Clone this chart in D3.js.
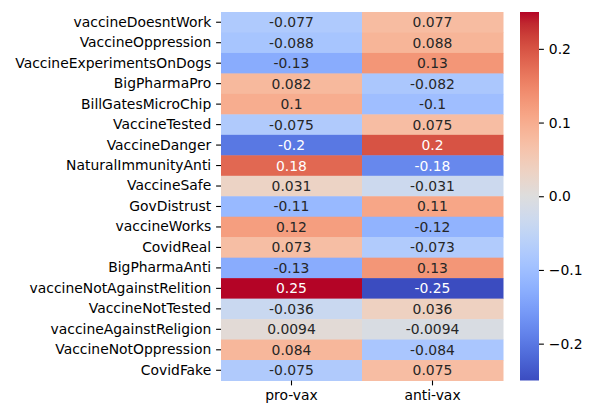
<!DOCTYPE html>
<html>
<head>
<meta charset="utf-8">
<script src="https://cdn.jsdelivr.net/npm/d3@7.9.0/dist/d3.min.js"></script>
<style>
  body { margin: 0; background: #fff; }
  svg { display: block; font-family: "DejaVu Sans", sans-serif; }
</style>
</head>
<body>
<svg id="chart" width="608" height="414"></svg>
<script>
const rows = [
  'vaccineDoesntWork', 'VaccineOppression', 'VaccineExperimentsOnDogs', 'BigPharmaPro',
  'BillGatesMicroChip', 'VaccineTested', 'VaccineDanger', 'NaturalImmunityAnti',
  'VaccineSafe', 'GovDistrust', 'vaccineWorks', 'CovidReal', 'BigPharmaAnti',
  'vaccineNotAgainstRelition', 'VaccineNotTested', 'vaccineAgainstReligion',
  'VaccineNotOppression', 'CovidFake'
];
const cols = ['pro-vax', 'anti-vax'];
const proVax = [-0.077, -0.088, -0.13, 0.082, 0.1, -0.075, -0.2, 0.18, 0.031, -0.11,
  0.12, 0.073, -0.13, 0.25, -0.036, 0.0094, 0.084, -0.075];
const antiVax = [0.077, 0.088, 0.13, -0.082, -0.1, 0.075, 0.2, -0.18, -0.031, 0.11,
  -0.12, -0.073, 0.13, -0.25, 0.036, -0.0094, -0.084, 0.075];
const cbarTicks = [-0.2, -0.1, 0.0, 0.1, 0.2];

// matplotlib coolwarm (Moreland), 33 samples
const coolwarm = [
  [59,76,192],[68,90,204],[77,104,215],[87,117,225],[98,130,234],[108,142,241],
  [119,154,247],[130,165,251],[141,176,254],[152,185,255],[163,194,255],[174,201,253],
  [184,208,249],[194,213,244],[204,217,238],[213,219,230],[221,221,221],[229,216,209],
  [236,211,197],[241,204,185],[245,196,173],[247,187,160],[247,177,148],[247,166,135],
  [244,154,123],[241,141,111],[236,127,99],[229,112,88],[222,96,77],[213,80,66],
  [203,62,56],[192,40,47],[180,4,38]
];

const vmin = -0.25, vmax = 0.25;
const stopT = coolwarm.map((c, i) => i / (coolwarm.length - 1));
const cmap = d3.scaleLinear()
  .domain(stopT)
  .range(coolwarm.map(c => d3.rgb(c[0], c[1], c[2])))
  .interpolate(d3.interpolateRgb)
  .clamp(true);
const norm = d3.scaleLinear().domain([vmin, vmax]).range([0, 1]).clamp(true);
const color = v => cmap(norm(v));

function luminance(c) {
  const rgb = d3.rgb(c);
  const lin = [rgb.r, rgb.g, rgb.b].map(x => {
    x = x / 255;
    return x <= 0.03928 ? x / 12.92 : Math.pow((x + 0.055) / 1.055, 2.4);
  });
  return 0.2126 * lin[0] + 0.7152 * lin[1] + 0.0722 * lin[2];
}

const cells = [];
rows.forEach((r, i) => {
  cells.push({ row: r, col: cols[0], value: proVax[i] });
  cells.push({ row: r, col: cols[1], value: antiVax[i] });
});

const svg = d3.select('#chart');
const x = d3.scaleBand().domain(cols).range([221, 503]);
const y = d3.scaleBand().domain(rows).range([12, 380.5]);

svg.append('g')
  .selectAll('rect')
  .data(cells)
  .join('rect')
  .attr('x', d => x(d.col))
  .attr('y', d => y(d.row))
  .attr('width', x.bandwidth() + 0.5)
  .attr('height', y.bandwidth() + 0.5)
  .attr('fill', d => color(d.value));

svg.append('g')
  .selectAll('text')
  .data(cells)
  .join('text')
  .attr('x', d => x(d.col) + x.bandwidth() / 2)
  .attr('y', d => y(d.row) + y.bandwidth() / 2)
  .attr('text-anchor', 'middle')
  .attr('dominant-baseline', 'central')
  .attr('font-size', 13.9)
  .attr('fill', d => luminance(color(d.value)) > 0.408 ? '#262626' : '#ffffff')
  .text(d => String(d.value));

const yAxis = svg.append('g')
  .attr('transform', 'translate(221,0)')
  .call(d3.axisLeft(y).tickSize(4.9).tickPadding(4.9));
const xAxis = svg.append('g')
  .attr('transform', 'translate(0,380.5)')
  .call(d3.axisBottom(x).tickSize(4.9).tickPadding(4.9));

[yAxis, xAxis].forEach(a => {
  a.select('.domain').remove();
  a.selectAll('.tick line').attr('stroke', '#000').attr('stroke-width', 1.1);
  a.selectAll('.tick text').attr('fill', '#000').attr('font-size', 13.9)
    .attr('font-family', '"DejaVu Sans", sans-serif');
});

// colorbar
const cbX = 520, cbW = 19;
const cbY = d3.scaleLinear().domain([vmin, vmax]).range([380.5, 12]);
const grad = svg.append('defs').append('linearGradient')
  .attr('id', 'cbgrad')
  .attr('x1', 0).attr('y1', 1).attr('x2', 0).attr('y2', 0);
grad.selectAll('stop')
  .data(coolwarm)
  .join('stop')
  .attr('offset', (d, i) => stopT[i])
  .attr('stop-color', d => d3.rgb(d[0], d[1], d[2]));

svg.append('rect')
  .attr('x', cbX)
  .attr('y', cbY(vmax))
  .attr('width', cbW)
  .attr('height', cbY(vmin) - cbY(vmax))
  .attr('fill', 'url(#cbgrad)');

const cbAxis = svg.append('g')
  .attr('transform', `translate(${cbX + cbW},0)`)
  .call(d3.axisRight(cbY).tickValues(cbarTicks).tickFormat(d3.format('.1f'))
    .tickSize(4.9).tickPadding(4.9));
cbAxis.select('.domain').remove();
cbAxis.selectAll('.tick line').attr('stroke', '#000').attr('stroke-width', 1.1);
cbAxis.selectAll('.tick text').attr('fill', '#000').attr('font-size', 13.9)
  .attr('font-family', '"DejaVu Sans", sans-serif');
</script>
</body>
</html>
